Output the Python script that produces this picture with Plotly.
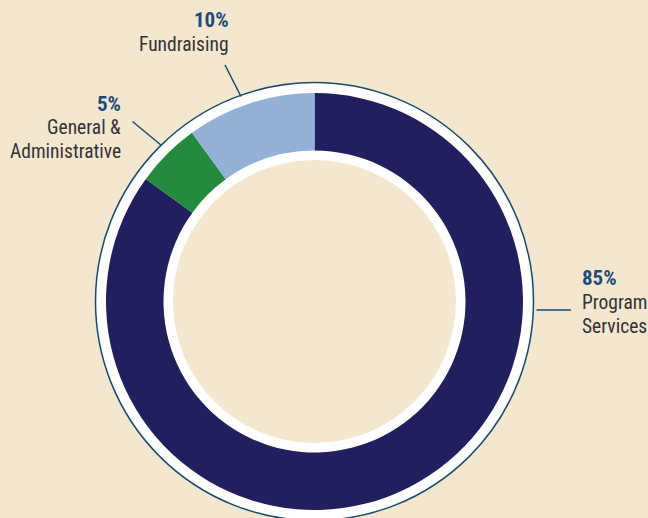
import plotly.graph_objects as go

W, H = 648, 518

# drawn clockwise from 12 o'clock
categories = ["Program Services", "General & Administrative", "Fundraising"]
values = [85, 5, 10]
colors = ["#221F5E", "#238A3E", "#93B1D7"]
label_lines = [["Program", "Services"], ["General &", "Administrative"], ["Fundraising"]]

BG = "#F4E7CF"
NAVY_LINE = "#1B4A6C"
PCT_COLOR = "#1D4B7A"
TXT_COLOR = "#333333"
FONT = "Liberation Sans Narrow, Arial Narrow, Roboto Condensed, DejaVu Sans Condensed, sans-serif"

cx, cy = 314.5, 301.5
r_outer, r_hole = 208.5, 151.0


def px(x):
    return x / W


def py(y):
    return 1 - y / H


fig = go.Figure()
fig.add_trace(go.Pie(
    labels=categories,
    values=values,
    marker=dict(colors=colors, line=dict(width=0)),
    hole=r_hole / r_outer,
    sort=False,
    direction="clockwise",
    rotation=0,
    textinfo="none",
    hoverinfo="label+percent",
    showlegend=False,
    domain=dict(x=[px(cx - r_outer), px(cx + r_outer)],
                y=[py(cy + r_outer), py(cy - r_outer)]),
))

shapes = []
# outer white disc with thin navy outline
R = 219
shapes.append(dict(type="circle", xref="paper", yref="paper", layer="below",
                   x0=px(cx - R), x1=px(cx + R), y0=py(cy + R), y1=py(cy - R),
                   fillcolor="white", line=dict(color=NAVY_LINE, width=1.5)))
# beige centre (leaves a white ring inside the donut)
Rc = 141.5
shapes.append(dict(type="circle", xref="paper", yref="paper", layer="below",
                   x0=px(cx - Rc), x1=px(cx + Rc), y0=py(cy + Rc), y1=py(cy - Rc),
                   fillcolor=BG, line=dict(width=0)))
# leader lines
leaders = [((536.5, 310), (571, 310)), ((132.5, 121.5), (161.5, 145.5)), ((225, 65), (241, 96.5))]
for (x0, y0), (x1, y1) in leaders:
    shapes.append(dict(type="line", xref="paper", yref="paper",
                       x0=px(x0), y0=py(y0), x1=px(x1), y1=py(y1),
                       line=dict(color=NAVY_LINE, width=1.5)))

# label layout: (anchor x, xanchor, pct middle y, first label line middle y, line step)
label_pos = [
    (579.5, "left", 278, 302.6, 23.5),
    (123, "right", 104, 127.6, 23.5),
    (231, "right", 19.7, 44.6, 23.5),
]
annotations = []
for v, lines, (ax, xa, ypct, yl, step) in zip(values, label_lines, label_pos):
    annotations.append(dict(text=f"<b>{v}%</b>", x=px(ax), y=py(ypct), xref="paper", yref="paper",
                            xanchor=xa, yanchor="middle", showarrow=False,
                            font=dict(family=FONT, size=21, color=PCT_COLOR)))
    for i, ln in enumerate(lines):
        annotations.append(dict(text=ln, x=px(ax), y=py(yl + i * step), xref="paper", yref="paper",
                                xanchor=xa, yanchor="middle", showarrow=False,
                                font=dict(family=FONT, size=19.5, color=TXT_COLOR)))

fig.update_layout(
    width=W, height=H,
    margin=dict(l=0, r=0, t=0, b=0),
    paper_bgcolor=BG, plot_bgcolor=BG,
    shapes=shapes, annotations=annotations,
    showlegend=False,
)

fig.write_html("out.html", config={"displayModeBar": False},
               post_script="document.body.style.margin='0';")
